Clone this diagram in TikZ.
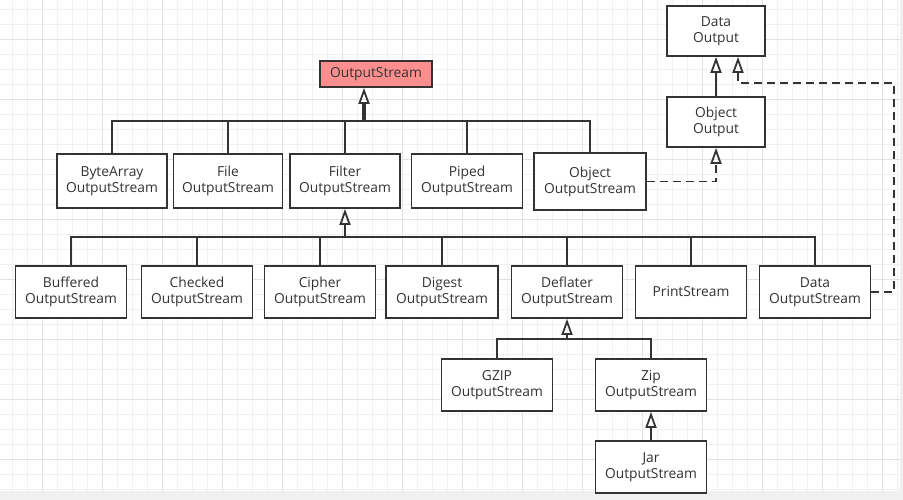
\documentclass[tikz,border=0pt]{standalone}
\usepackage{fontspec}
\setmainfont{Open Sans}
\usetikzlibrary{arrows.meta}
\definecolor{ink}{HTML}{333333}
\definecolor{salmon}{HTML}{FF8F8F}
\definecolor{gminor}{HTML}{F0F0F0}
\definecolor{gmajor}{HTML}{E2E2E2}
\definecolor{strip}{HTML}{F0F0F0}
\begin{document}
\begin{tikzpicture}[x=1pt,y=-1pt,
  box/.style={draw=ink, line width=1.8pt, fill=white, align=center, inner sep=0pt,
    text=ink, font=\fontsize{13.8}{16}\selectfont, minimum width=111pt, minimum height=52pt},
  conn/.style={draw=ink, line width=1.8pt},
  tri/.style={-{Triangle[open, length=16pt, width=11pt]}},
  dsh/.style={dash pattern=on 8pt off 5pt}]
\useasboundingbox (0,0) rectangle (903,500);
% background grid
\fill[white] (0,0) rectangle (903,500);
\foreach \gx in {12,27,...,897} \draw[gminor, line width=0.8pt] (\gx,0) -- (\gx,491);
\foreach \gy in {9,24,...,489} \draw[gminor, line width=0.8pt] (0,\gy) -- (900,\gy);
\foreach \gx in {42,102,...,882} \draw[gmajor, line width=0.8pt] (\gx,0) -- (\gx,491);
\foreach \gy in {39,99,...,459} \draw[gmajor, line width=0.8pt] (0,\gy) -- (900,\gy);
\fill[strip] (0,491) rectangle (903,500);
\fill[strip] (900,0) rectangle (903,500);

% nodes
\node[box, fill=salmon, minimum width=112pt, minimum height=26pt] (out) at (376,74) {OutputStream};
\node[box, minimum width=110pt, minimum height=54pt] (bytearray) at (112,181) {ByteArray\\OutputStream};
\node[box, minimum width=109pt, minimum height=54pt] (file) at (228,181) {File\\OutputStream};
\node[box, minimum width=110pt, minimum height=54pt] (filter) at (345,181) {Filter\\OutputStream};
\node[box, minimum width=111pt, minimum height=54pt] (piped) at (467,181) {Piped\\OutputStream};
\node[box, minimum width=112pt, minimum height=57pt] (object) at (590,181.5) {Object\\OutputStream};
\node[box, minimum width=98pt, minimum height=50pt] (dataout) at (716,31) {Data\\Output};
\node[box, minimum width=98pt, minimum height=50pt] (objout) at (716,122) {Object\\Output};
\node[box] (buffered) at (71,292) {Buffered\\OutputStream};
\node[box] (checked) at (197,292) {Checked\\OutputStream};
\node[box] (cipher) at (320,292) {Cipher\\OutputStream};
\node[box, minimum width=112pt] (digest) at (442,292) {Digest\\OutputStream};
\node[box] (deflater) at (567,292) {Deflater\\OutputStream};
\node[box] (print) at (691,292) {PrintStream};
\node[box] (data) at (815,292) {Data\\OutputStream};
\node[box] (gzip) at (497,385) {GZIP\\OutputStream};
\node[box] (zip) at (651,385) {Zip\\OutputStream};
\node[box] (jar) at (651,467) {Jar\\OutputStream};

% bus coordinates
\coordinate (b1) at (364,121);
\coordinate (b2) at (345,237);
\coordinate (b3) at (567,339);
\coordinate (c1) at (894,83);
\coordinate (c2) at (738,83);

% level 1
\draw[conn] (bytearray.north) |- (b1) -| (object.north);
\draw[conn] (file.north) -- (file.north |- b1);
\draw[conn] (filter.north) -- (filter.north |- b1);
\draw[conn] (piped.north) -- (piped.north |- b1);
\draw[conn, line width=4pt] (b1) -- ([yshift=-16pt]b1 |- out.south);
\draw[conn, tri] (b1) -- (b1 |- out.south);

% level 2
\draw[conn] (buffered.north) |- (b2) -| (data.north);
\draw[conn] (checked.north) -- (checked.north |- b2);
\draw[conn] (cipher.north) -- (cipher.north |- b2);
\draw[conn] (digest.north) -- (digest.north |- b2);
\draw[conn] (deflater.north) -- (deflater.north |- b2);
\draw[conn] (print.north) -- (print.north |- b2);
\draw[conn, tri] (b2) -- (filter.south);

% level 3
\draw[conn] (gzip.north) |- (b3) -| (zip.north);
\draw[conn, tri] (b3) -- (deflater.south);
\draw[conn, tri] (jar.north) -- (zip.south);

% interfaces
\draw[conn, tri] (objout.north) -- (dataout.south);
\draw[conn, tri, dsh] (object.east) -| (objout.south);
\draw[conn, tri, dsh] (data.east) -| (c1) -- (c2) -- (c2 |- dataout.south);
\end{tikzpicture}
\end{document}
